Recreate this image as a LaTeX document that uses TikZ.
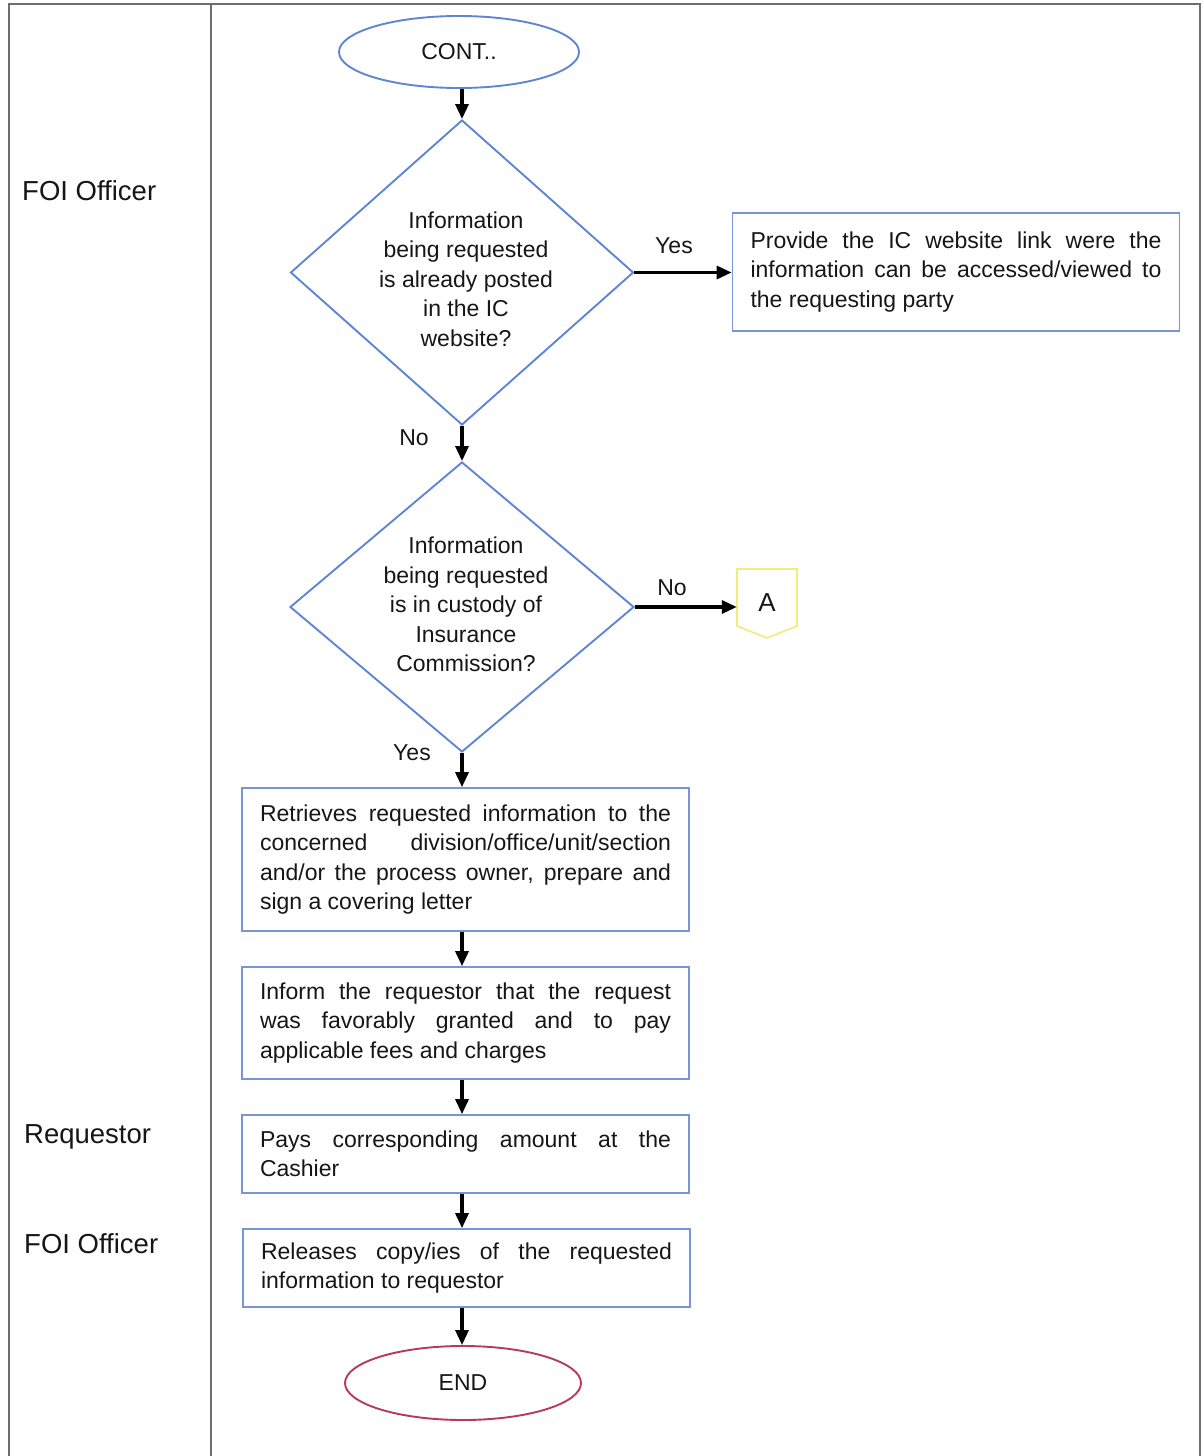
\documentclass[tikz,border=0pt]{standalone}
\usepackage{fontspec}
\setmainfont{Liberation Sans}
\usetikzlibrary{arrows.meta,shapes.geometric,calc}
\definecolor{flowblue}{HTML}{5F85D3}
\definecolor{boxblue}{HTML}{7B93D9}
\definecolor{endred}{HTML}{B53A5C}
\definecolor{connyellow}{HTML}{F2EC7E}
\definecolor{framegray}{HTML}{6E6E6E}
\definecolor{ink}{HTML}{161616}
\begin{document}
\begin{tikzpicture}[x=1pt,y=-1pt,
  every node/.style={text=ink, font=\fontsize{23}{29.5}\selectfont},
  terminal/.style={ellipse, line width=1.9pt, minimum width=240pt, minimum height=72pt, inner sep=0pt},
  decision/.style={diamond, draw=flowblue, line width=1.9pt, inner sep=0pt},
  dtext/.style={align=center, inner sep=0pt},
  stepbox/.style={draw=boxblue, line width=1.7pt, text width=411pt, align=justify,
                  inner xsep=18pt, inner ysep=0pt},
  flow/.style={line width=3.2pt, -{Triangle[length=15pt,width=13pt]}},
  lane/.style={font=\fontsize{27.5}{33}\selectfont, anchor=base west, inner sep=0pt},
  tag/.style={inner sep=0pt}
]
\path[use as bounding box] (0,0) rectangle (1203,1456);

% swimlane frame
\draw[framegray, line width=2.6pt] (9,1456) -- (9,4) -- (1200,4) -- (1200,1456);
\draw[framegray, line width=2.6pt] (211,4) -- (211,1456);

% lane names
\node[lane] (lane1) at (22,200) {FOI Officer};
\node[lane] (lane2) at (24,1143) {Requestor};
\node[lane] (lane3) at (24,1253) {FOI Officer};

% main spine of the flow
\coordinate (spine) at (462,0);

% start
\node[terminal, draw=flowblue] (cont) at (459,52) {CONT..};

% first decision
\node[decision, minimum width=343pt, minimum height=305pt] (q1) at (462,272.5) {};
\node[dtext] (q1t) at (466,279) {Information\\being requested\\is already posted\\in the IC\\website?};

\node[stepbox, minimum height=118pt] (web) at (956,272)
  {Provide the IC website link were the\linebreak information can be accessed/viewed to\linebreak the requesting party};

% second decision
\node[decision, minimum width=344pt, minimum height=290pt] (q2) at (462,607) {};
\node[dtext] (q2t) at (466,604.5) {Information\\being requested\\is in custody of\\Insurance\\Commission?};

% off-page connector
\node[tag, minimum width=60pt, minimum height=57pt, font=\fontsize{26}{30}\selectfont] (conA) at (767,603) {A};
\draw[connyellow, line width=1.7pt]
  ($(conA.center)+(-30,-34)$) -- ++(60,0) -- ++(0,57) -- ++(-30,12) -- ++(-30,-12) -- cycle;

% process steps
\node[stepbox, minimum height=143pt] (ret) at (465.5,859.5)
  {Retrieves requested information to the\linebreak concerned division/office/unit/section\linebreak and/or the process owner, prepare and\linebreak sign a covering letter};
\node[stepbox, minimum height=112pt] (inf) at (465.5,1023)
  {Inform the requestor that the request\linebreak was favorably granted and to pay\linebreak applicable fees and charges};
\node[stepbox, minimum height=78pt] (pay) at (465.5,1154)
  {Pays corresponding amount at the\linebreak Cashier};
\node[stepbox, minimum height=78pt] (rel) at (466.5,1268)
  {Releases copy/ies of the requested\linebreak information to requestor};

% end
\node[terminal, draw=endred, minimum width=236pt, minimum height=74pt] (end) at (463,1383) {END};

% branch labels
\node[tag] (yes1) at (674,246) {Yes};
\node[tag] (no1) at (414,438) {No};
\node[tag] (no2) at (672,588) {No};
\node[tag] (yes2) at (412,753) {Yes};

% connectors
\draw[flow] (spine |- cont.south) -- (q1.north);
\draw[flow] (q1.east) -- (q1.east -| web.west);
\draw[flow] (q1.south) -- (q2.north);
\draw[flow] (q2.east) -- (q2.east -| conA.west);
\draw[flow] (q2.south) -- (q2.south |- ret.north);
\draw[flow] (spine |- ret.south) -- (spine |- inf.north);
\draw[flow] (spine |- inf.south) -- (spine |- pay.north);
\draw[flow] (spine |- pay.south) -- (spine |- rel.north);
\draw[flow] (spine |- rel.south) -- (spine |- end.north);
\end{tikzpicture}
\end{document}
